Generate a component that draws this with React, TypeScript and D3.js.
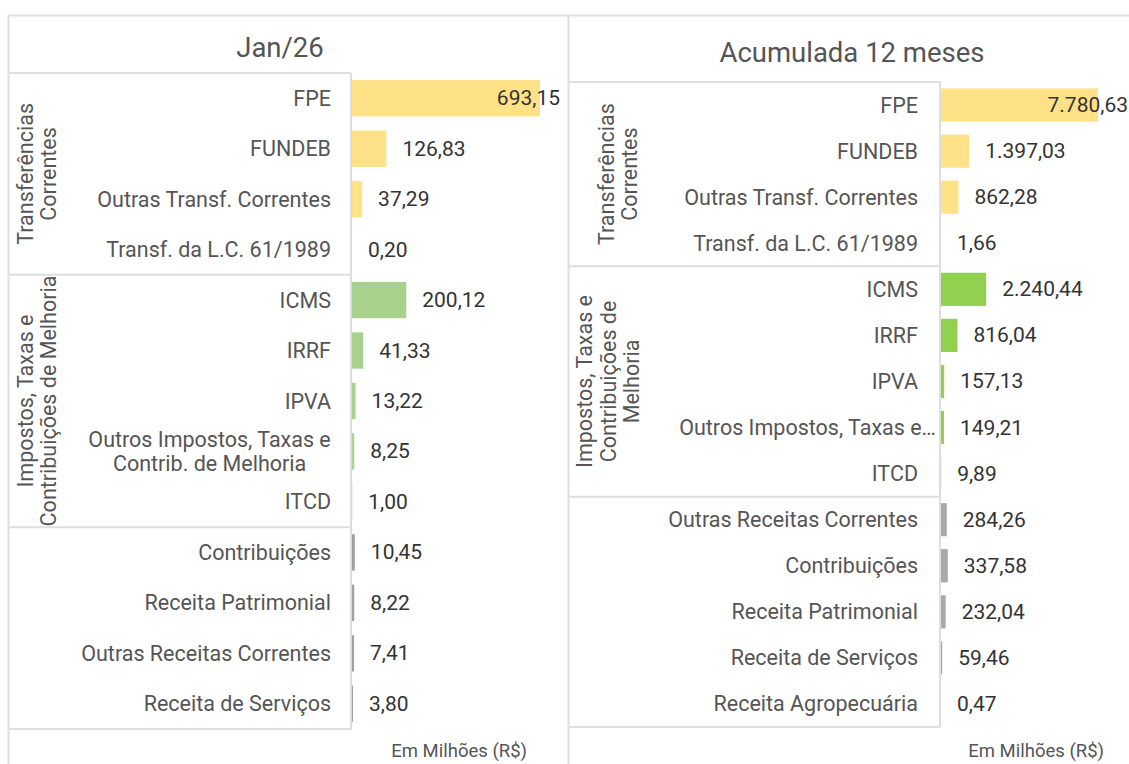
import * as d3 from 'd3'

// Jan/26
const monthCategories = ['FPE', 'FUNDEB', 'Outras Transf. Correntes', 'Transf. da L.C. 61/1989', 'ICMS', 'IRRF', 'IPVA', 'Outros Impostos, Taxas e Contrib. de Melhoria', 'ITCD', 'Contribuições', 'Receita Patrimonial', 'Outras Receitas Correntes', 'Receita de Serviços']
const monthTickLabels = ['FPE', 'FUNDEB', 'Outras Transf. Correntes', 'Transf. da L.C. 61/1989', 'ICMS', 'IRRF', 'IPVA', 'Outros Impostos, Taxas e\nContrib. de Melhoria', 'ITCD', 'Contribuições', 'Receita Patrimonial', 'Outras Receitas Correntes', 'Receita de Serviços']
const monthValues = [693.15, 126.83, 37.29, 0.2, 200.12, 41.33, 13.22, 8.25, 1.0, 10.45, 8.22, 7.41, 3.8]
const monthGroupSizes = [4, 5, 4]
const monthGroupLabels = [['Transferências', 'Correntes'], ['Impostos, Taxas e', 'Contribuições de Melhoria'], []]
const monthColors = ['#ffe187', '#a9d18e', '#a0a0a0']

// Acumulada 12 meses
const yearCategories = ['FPE', 'FUNDEB', 'Outras Transf. Correntes', 'Transf. da L.C. 61/1989', 'ICMS', 'IRRF', 'IPVA', 'Outros Impostos, Taxas e Contrib. de Melhoria', 'ITCD', 'Outras Receitas Correntes', 'Contribuições', 'Receita Patrimonial', 'Receita de Serviços', 'Receita Agropecuária']
const yearTickLabels = ['FPE', 'FUNDEB', 'Outras Transf. Correntes', 'Transf. da L.C. 61/1989', 'ICMS', 'IRRF', 'IPVA', 'Outros Impostos, Taxas e…', 'ITCD', 'Outras Receitas Correntes', 'Contribuições', 'Receita Patrimonial', 'Receita de Serviços', 'Receita Agropecuária']
const yearValues = [7780.63, 1397.03, 862.28, 1.66, 2240.44, 816.04, 157.13, 149.21, 9.89, 284.26, 337.58, 232.04, 59.46, 0.47]
const yearGroupSizes = [4, 5, 5]
const yearGroupLabels = [['Transferências', 'Correntes'], ['Impostos, Taxas e', 'Contribuições de', 'Melhoria'], []]
const yearColors = ['#ffe187', '#92d050', '#a9a9a9']

const unitLabel = 'Em Milhões (R$)'

const W = 1129
const H = 764
const FONT = 'Roboto, "Noto Sans", sans-serif'
const BORDER = '#dedede'

const fmt = d3
  .formatLocale({ decimal: ',', thousands: '.', grouping: [3], currency: ['R$', ''] })
  .format(',.2f')

let ctx: CanvasRenderingContext2D | null = null
function textWidth(s: string, size: number) {
  if (!ctx) ctx = document.createElement('canvas').getContext('2d')
  if (!ctx) return s.length * size * 0.55
  ctx.font = size + 'px Roboto'
  return ctx.measureText(s).width
}

type Layout = {
  left: number
  titleX: number
  titleY: number
  top: number
  bottom: number
  groupX: number[]
  labelX: number
  barX0: number
  barX1: number
  labelMax: number
  unitX: number
}

function Panel(props: {
  title: string
  categories: string[]
  tickLabels: string[]
  values: number[]
  groupSizes: number[]
  groupLabels: string[][]
  colors: string[]
  layout: Layout
}) {
  const { title, categories, tickLabels, values, groupSizes, groupLabels, colors, layout: L } = props
  const n = categories.length

  const x = d3.scaleLinear().domain([0, d3.max(values) as number]).range([L.barX0, L.barX1])
  const y = d3
    .scaleBand<number>()
    .domain(d3.range(n))
    .range([L.top, L.bottom])
    .paddingInner(0.28)
    .paddingOuter(0.14)

  const groupOf: number[] = []
  groupSizes.forEach((s, g) => d3.range(s).forEach(() => groupOf.push(g)))
  const starts = [0, ...d3.cumsum(groupSizes)]
  const bounds = starts.map((k) => L.top + k * y.step())

  const labelSize = 21.5
  const valueSize = 21

  return (
    <g>
      <text x={L.titleX} y={L.titleY} textAnchor="middle" dominantBaseline="central" fontSize={27.5} fill="#555">
        {title}
      </text>

      {/* table box */}
      {bounds.map((b, i) => (
        <line key={'b' + i} x1={L.left} x2={L.barX0 - 1} y1={b} y2={b} stroke={BORDER} strokeWidth={2} />
      ))}
      <line x1={L.barX0 - 1} x2={L.barX0 - 1} y1={L.top} y2={L.bottom} stroke={BORDER} strokeWidth={2} />

      {/* group labels */}
      {groupLabels.map((lines, g) => {
        const cy = (bounds[g] + bounds[g + 1]) / 2
        return (
          <g key={'g' + g} transform={`translate(${L.groupX[g]},${cy}) rotate(-90)`}>
            {lines.map((t, i) => (
              <text
                key={i}
                x={0}
                y={(i - (lines.length - 1) / 2) * 23.5}
                textAnchor="middle"
                dominantBaseline="central"
                fontSize={labelSize}
                fill="#555"
              >
                {t}
              </text>
            ))}
          </g>
        )
      })}

      {/* category labels */}
      {tickLabels.map((t, i) => {
        const cy = (y(i) as number) + y.bandwidth() / 2
        const lines = t.split('\n')
        if (lines.length === 1) {
          const trunc = t.endsWith('…')
          return (
            <text
              key={'c' + i}
              x={trunc ? L.barX0 - 5 : L.labelX}
              y={cy}
              textAnchor="end"
              dominantBaseline="central"
              fontSize={labelSize}
              fill="#555"
            >
              {t}
            </text>
          )
        }
        const maxW = d3.max(lines, (l) => textWidth(l, labelSize)) as number
        const cx = L.labelX - maxW / 2
        return (
          <g key={'c' + i}>
            {lines.map((l, j) => (
              <text
                key={j}
                x={cx}
                y={cy + (j - (lines.length - 1) / 2) * 24}
                textAnchor="middle"
                dominantBaseline="central"
                fontSize={labelSize}
                fill="#555"
              >
                {l}
              </text>
            ))}
          </g>
        )
      })}

      {/* bars */}
      {values.map((v, i) => (
        <rect
          key={'r' + i}
          x={x(0)}
          y={y(i)}
          width={Math.max(0, x(v) - x(0))}
          height={y.bandwidth()}
          fill={colors[groupOf[i]]}
        />
      ))}

      {/* value labels */}
      {values.map((v, i) => {
        const s = fmt(v)
        const w = textWidth(s, valueSize)
        let tx = x(v) + 16
        if (tx + w > L.labelMax) tx = L.labelMax - w
        return (
          <text
            key={'v' + i}
            x={tx}
            y={(y(i) as number) + y.bandwidth() / 2}
            dominantBaseline="central"
            fontSize={valueSize}
            fill="#333"
          >
            {s}
          </text>
        )
      })}

      <text x={L.unitX} y={751} textAnchor="end" dominantBaseline="central" fontSize={18.5} fill="#555">
        {unitLabel}
      </text>
    </g>
  )
}

export default function App() {
  return (
    <svg
      width={W}
      height={H}
      style={{ position: 'absolute', left: 0, top: 0, background: '#fff' }}
      fontFamily={FONT}
    >
      <rect width={W} height={H} fill="#fff" />
      <line x1={8} x2={W} y1={15.5} y2={15.5} stroke={BORDER} strokeWidth={2} />
      <line x1={8.5} x2={8.5} y1={15} y2={H} stroke={BORDER} strokeWidth={2} />
      <line x1={568.5} x2={568.5} y1={15} y2={H} stroke={BORDER} strokeWidth={2} />

      <Panel
        title="Jan/26"
        categories={monthCategories}
        tickLabels={monthTickLabels}
        values={monthValues}
        groupSizes={monthGroupSizes}
        groupLabels={monthGroupLabels}
        colors={monthColors}
        layout={{
          left: 8,
          titleX: 280,
          titleY: 47,
          top: 73,
          bottom: 729,
          groupX: [37, 37, 37],
          labelX: 331,
          barX0: 352,
          barX1: 540,
          labelMax: 560,
          unitX: 527,
        }}
      />
      <Panel
        title="Acumulada 12 meses"
        categories={yearCategories}
        tickLabels={yearTickLabels}
        values={yearValues}
        groupSizes={yearGroupSizes}
        groupLabels={yearGroupLabels}
        colors={yearColors}
        layout={{
          left: 569,
          titleX: 852,
          titleY: 52,
          top: 82,
          bottom: 727,
          groupX: [618, 608, 608],
          labelX: 918,
          barX0: 941,
          barX1: 1098,
          labelMax: 1128,
          unitX: 1104,
        }}
      />
    </svg>
  )
}
